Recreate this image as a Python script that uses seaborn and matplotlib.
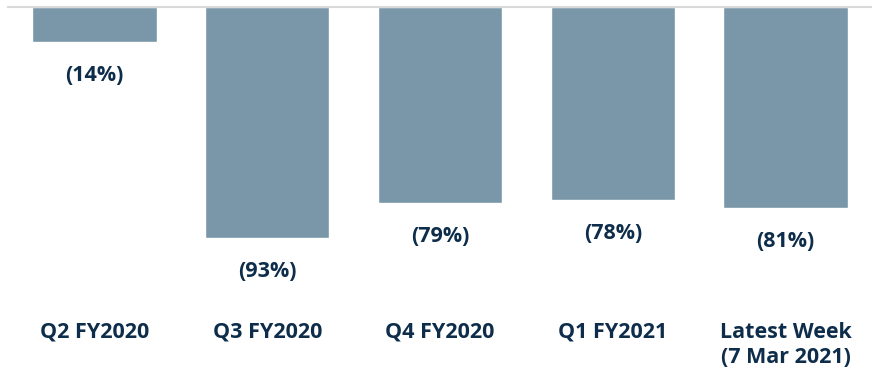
import matplotlib
matplotlib.use("Agg")
import matplotlib.pyplot as plt
import seaborn as sns
import pandas as pd

categories = ["Q2 FY2020", "Q3 FY2020", "Q4 FY2020", "Q1 FY2021", "Latest Week\n(7 Mar 2021)"]
values = [-14, -93, -79, -78, -81]

bar_color = "#7997a8"
text_color = "#0e2d4a"

sns.set_theme(style="white")
plt.rcParams["font.family"] = ["Open Sans", "DejaVu Sans"]

df = pd.DataFrame({"period": categories, "change": values})

fig = plt.figure(figsize=(8.72, 3.79), dpi=100)
ax = fig.add_axes([8 / 872, 1 - 315 / 379, 1 - 8 / 872, (315 - 7) / 379])

sns.barplot(data=df, x="period", y="change", color=bar_color, width=0.72,
            saturation=1, ax=ax, zorder=1)

ax.set_ylim(-124.2, 0)
ax.set_xlim(-0.5, len(categories) - 0.5)

for i, v in enumerate(values):
    ax.text(i, v - 13.5, f"({abs(v)}%)", ha="center", va="center",
            fontsize=15.5, fontweight="bold", color=text_color)

ax.set_xlabel("")
ax.set_ylabel("")
ax.set_yticks([])
ax.tick_params(axis="x", length=0, pad=5)
ax.set_xticks(range(len(categories)))
ax.set_xticklabels(categories, fontsize=15.5, fontweight="bold", color=text_color,
                   linespacing=1.25)

for side in ["left", "right", "bottom"]:
    ax.spines[side].set_visible(False)
ax.spines["top"].set_color("#d9d9d9")
ax.spines["top"].set_linewidth(1.5)
ax.spines["top"].set_zorder(3)

fig.savefig("out.png", dpi=100)
